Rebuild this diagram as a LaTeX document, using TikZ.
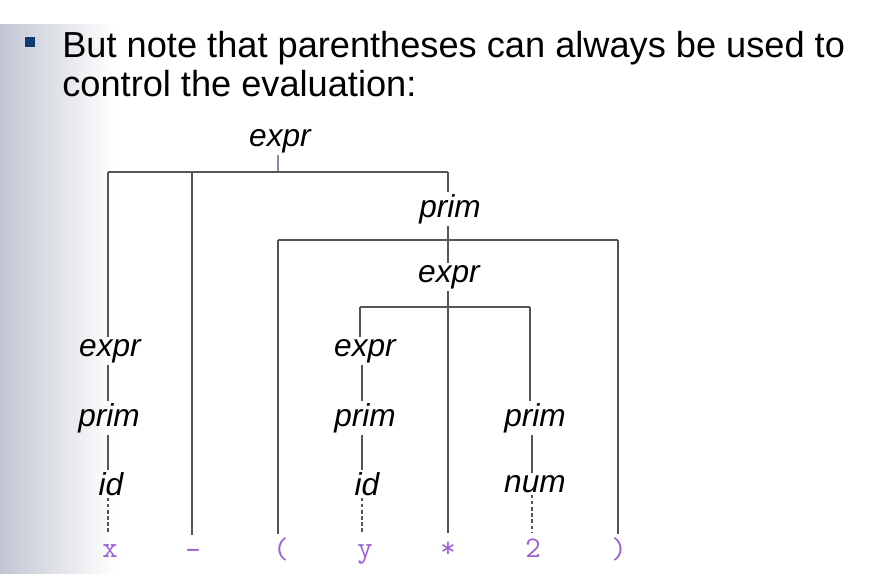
\documentclass[tikz,border=0pt]{standalone}
\usepackage{fontspec}
\setmainfont{Liberation Sans}
\usetikzlibrary{positioning,calc}
\definecolor{slidegray}{HTML}{C2C6D2}
\definecolor{bulletblue}{HTML}{0B3D6E}
\definecolor{leafpurple}{HTML}{9A5FD0}
\definecolor{treeline}{HTML}{555555}
\tikzset{
  ntbox/.style={inner sep=1pt, font=\fontsize{18}{20}\selectfont\itshape, text=black},
  leafbox/.style={anchor=base, inner sep=1pt, text height=12.5pt,
                  font=\fontsize{17}{18}\selectfont\ttfamily, text=leafpurple},
  edge/.style={draw=treeline, line width=0.8pt},
  lexedge/.style={draw=treeline, line width=0.8pt, dash pattern=on 2pt off 1.5pt}}

\begin{document}
\begin{tikzpicture}[x=0.02cm, y=-0.02cm]
    % slide background
    \useasboundingbox (0,0) rectangle (893,574);
    \fill[white] (0,0) rectangle (893,574);
    \shade[left color=slidegray, right color=white] (0,25) rectangle (115,574);
    \fill[white] (115,25) rectangle (893,574);
    \fill[bulletblue] (25,37) rectangle (35,47);
    \node[anchor=base west, inner sep=0pt,
          font=\fontsize{20.6}{22}\selectfont] (title) at (62,58)
      {But note that parentheses can always be used to};
    \node[anchor=base west, inner sep=0pt,
          font=\fontsize{20.6}{22}\selectfont] (title2) at (62,97)
      {control the evaluation:};

    % nonterminals
    \node[ntbox] (e0) at (280,141) {expr};
    \node[ntbox] (p1) at (450,209) {prim};
    \node[ntbox] (e1) at (449,277) {expr};
    \node[ntbox] (el) at (110,351) {expr};
    \node[ntbox] (pl) at (109,418) {prim};
    \node[ntbox] (il) at (111,484) {id};
    \node[ntbox] (em) at (365,351) {expr};
    \node[ntbox] (pm) at (365,418) {prim};
    \node[ntbox] (im) at (367,484) {id};
    \node[ntbox] (pr) at (535,418) {prim};
    \node[ntbox] (nr) at (535,484) {num};

    % tokens
    \node[leafbox] (tx) at (110,557) {x};
    \node[leafbox] (tminus) at (193,559) {-};
    \node[leafbox] (tlp) at (281,558) {(};
    \node[leafbox] (ty) at (365,557) {y};
    \node[leafbox] (tstar) at (448,557) {*};
    \node[leafbox] (t2) at (533,557) {2};
    \node[leafbox] (trp) at (619,558) {)};

    % expr -> expr - prim
    \draw[edge, draw=treeline!70!blue!60!white] (e0.south -| 278,0) -- (278,172);
    \draw[edge] (108,172) -- (448,172);
    \draw[edge] (108,172) -- (el.north -| 108,0);
    \draw[edge] (192,172) -- (tminus.north -| 192,0);
    \draw[edge] (448,172) -- (p1.north -| 448,0);
    % prim -> ( expr )
    \draw[edge] (p1.south -| 448,0) -- (448,240);
    \draw[edge] (278,240) -- (618,240);
    \draw[edge] (278,240) -- (tlp.north -| 278,0);
    \draw[edge] (448,240) -- (e1.north -| 448,0);
    \draw[edge] (618,240) -- (trp.north -| 618,0);
    % expr -> expr * prim
    \draw[edge] (360,307) -- (530,307);
    \draw[edge] (360,307) -- (em.north -| 360,0);
    \draw[edge] (e1.south -| 448,0) -- (tstar.north -| 448,0);
    \draw[edge] (530,307) -- (pr.north -| 530,0);
    % chains
    \draw[edge] (el.south -| 108,0) -- (pl.north -| 108,0);
    \draw[edge] (pl.south -| 108,0) -- (il.north -| 108,0);
    \draw[lexedge] (il.south -| 108,0) -- (tx.north -| 108,0);
    \draw[edge] (em.south -| 362,0) -- (pm.north -| 362,0);
    \draw[edge] (pm.south -| 362,0) -- (im.north -| 362,0);
    \draw[lexedge] (im.south -| 362,0) -- (ty.north -| 362,0);
    \draw[edge] (pr.south -| 532,0) -- (nr.north -| 532,0);
    \draw[lexedge] (nr.south -| 532,0) -- (t2.north -| 532,0);
  \end{tikzpicture}
\end{document}
